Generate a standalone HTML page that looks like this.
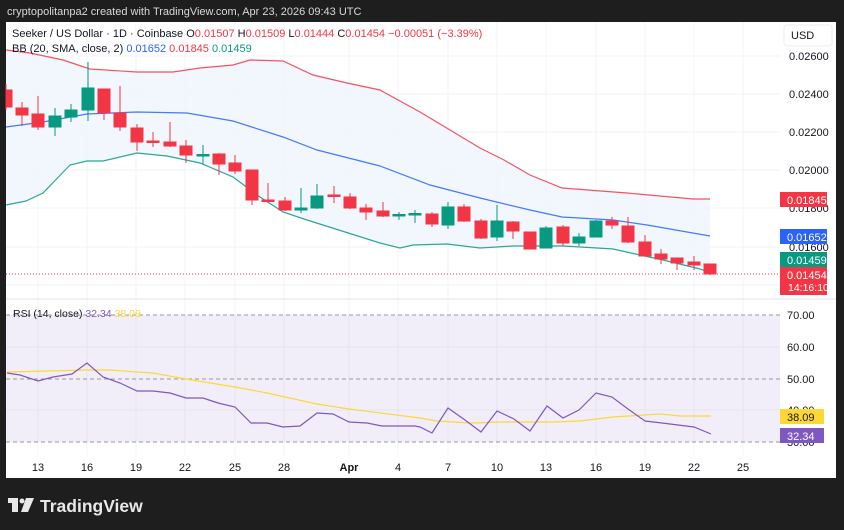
<!DOCTYPE html>
<html><head><meta charset="utf-8"><style>
html,body{margin:0;padding:0;background:#1e1e1e;}
svg{display:block;font-family:"Liberation Sans",sans-serif;}
</style></head><body>
<svg width="844" height="530" viewBox="0 0 844 530" xmlns="http://www.w3.org/2000/svg">
<rect width="844" height="530" fill="#1e1e1e"/>
<text x="7" y="15" font-size="11" fill="#d8d8d8">cryptopolitanpa2 created with TradingView.com, Apr 23, 2026 09:43 UTC</text>
<rect x="6" y="22" width="830" height="456" fill="#fff"/>
<!-- grid -->
<g stroke="#f2f3f5" stroke-width="1">
<line x1="38" y1="22" x2="38" y2="455"/><line x1="87" y1="22" x2="87" y2="455"/><line x1="136" y1="22" x2="136" y2="455"/><line x1="185" y1="22" x2="185" y2="455"/><line x1="235" y1="22" x2="235" y2="455"/><line x1="284" y1="22" x2="284" y2="455"/><line x1="349" y1="22" x2="349" y2="455"/><line x1="398" y1="22" x2="398" y2="455"/><line x1="448" y1="22" x2="448" y2="455"/><line x1="497" y1="22" x2="497" y2="455"/><line x1="546" y1="22" x2="546" y2="455"/><line x1="596" y1="22" x2="596" y2="455"/><line x1="645" y1="22" x2="645" y2="455"/><line x1="694" y1="22" x2="694" y2="455"/><line x1="743" y1="22" x2="743" y2="455"/>
<line x1="6" y1="56" x2="780" y2="56"/><line x1="6" y1="94" x2="780" y2="94"/><line x1="6" y1="132" x2="780" y2="132"/><line x1="6" y1="170" x2="780" y2="170"/><line x1="6" y1="208" x2="780" y2="208"/><line x1="6" y1="247" x2="780" y2="247"/><line x1="6" y1="285" x2="780" y2="285"/>
<line x1="6" y1="347" x2="780" y2="347"/><line x1="6" y1="410" x2="780" y2="410"/>
</g>
<!-- BB fill -->
<polygon fill="#eef5fd" fill-opacity="0.8" points="6,50 30,53 63,60 90,69 137,72 173,72 200,68 233,65 250,60 283,61 313,75 347,83 380,90 420,112 450,130 480,148 504,160 530,175 562,188 627,193 693,199 710,199 710,273 700,269 663,260 640,255 613,249 597,248 563,246 513,246 480,248 447,244 413,245 400,248 380,243 307,220 283,212 260,197 233,177 200,163 167,156 137,153 103,161 87,161 70,165 43,193 26,201 6,205"/>
<polyline fill="none" stroke="#f23645" stroke-opacity="0.85" stroke-width="1.2" points="6,50 30,53 63,60 90,69 137,72 173,72 200,68 233,65 250,60 283,61 313,75 347,83 380,90 420,112 450,130 480,148 504,160 530,175 562,188 627,193 693,199 710,199"/>
<polyline fill="none" stroke="#2962ff" stroke-opacity="0.85" stroke-width="1.2" points="6,127 43,122 87,114 137,112 187,113 233,121 283,137 317,150 380,166 430,185 480,198 530,210 562,217 613,220 647,225 710,236"/>
<polyline fill="none" stroke="#089981" stroke-opacity="0.85" stroke-width="1.2" points="6,205 26,201 43,193 70,165 87,161 103,161 137,153 167,156 200,163 233,177 260,197 283,212 307,220 380,243 400,248 413,245 447,244 480,248 513,246 563,246 597,248 613,249 640,255 663,260 700,269 710,273"/>
<line x1="6" y1="274" x2="780" y2="274" stroke="#f23645" stroke-width="1" stroke-dasharray="1,2"/>
<!-- candles -->
<g stroke-width="1">
<g fill="#f23645" stroke="#f23645">
<line x1="6" y1="84" x2="6" y2="110"/><rect x="6" y="90" width="6" height="17"/>
<line x1="22" y1="102" x2="22" y2="126"/><rect x="16" y="108" width="12" height="7"/>
<line x1="38" y1="96" x2="38" y2="130"/><rect x="32" y="114" width="12" height="13"/>
<line x1="104" y1="89" x2="104" y2="120"/><rect x="98" y="89" width="12" height="24"/>
<line x1="120" y1="86" x2="120" y2="131"/><rect x="114" y="113" width="12" height="14"/>
<line x1="137" y1="124" x2="137" y2="151"/><rect x="131" y="128" width="12" height="14"/>
<line x1="153" y1="132" x2="153" y2="147"/><rect x="147" y="141" width="12" height="1.5"/>
<line x1="170" y1="122" x2="170" y2="147"/><rect x="164" y="142" width="12" height="4"/>
<line x1="186" y1="140" x2="186" y2="163"/><rect x="180" y="146" width="12" height="9"/>
<line x1="219" y1="153" x2="219" y2="175"/><rect x="213" y="154" width="12" height="10"/>
<line x1="235" y1="155" x2="235" y2="174"/><rect x="229" y="163" width="12" height="8"/>
<line x1="252" y1="170" x2="252" y2="205"/><rect x="246" y="170" width="12" height="30"/>
<line x1="268" y1="183" x2="268" y2="203"/><rect x="262" y="200" width="12" height="1.5"/>
<line x1="285" y1="197" x2="285" y2="211"/><rect x="279" y="201" width="12" height="9"/>
<line x1="334" y1="186" x2="334" y2="203"/><rect x="328" y="195" width="12" height="1.5"/>
<line x1="350" y1="193" x2="350" y2="209"/><rect x="344" y="197" width="12" height="11"/>
<line x1="366" y1="204" x2="366" y2="220"/><rect x="360" y="208" width="12" height="4"/>
<line x1="383" y1="202" x2="383" y2="217"/><rect x="377" y="211" width="12" height="5"/>
<line x1="432" y1="212" x2="432" y2="227"/><rect x="426" y="214" width="12" height="10"/>
<line x1="464" y1="204" x2="464" y2="222"/><rect x="458" y="207" width="12" height="14"/>
<line x1="481" y1="219" x2="481" y2="239"/><rect x="475" y="221" width="12" height="17"/>
<line x1="513" y1="221" x2="513" y2="239"/><rect x="507" y="222" width="12" height="9"/>
<line x1="530" y1="232" x2="530" y2="249"/><rect x="524" y="232" width="12" height="17"/>
<line x1="563" y1="225" x2="563" y2="246"/><rect x="557" y="227" width="12" height="16"/>
<line x1="612" y1="217" x2="612" y2="229"/><rect x="606" y="221" width="12" height="4"/>
<line x1="628" y1="217" x2="628" y2="243"/><rect x="622" y="226" width="12" height="16"/>
<line x1="645" y1="235" x2="645" y2="256"/><rect x="639" y="242" width="12" height="14"/>
<line x1="661" y1="249" x2="661" y2="264"/><rect x="655" y="254" width="12" height="5"/>
<line x1="677" y1="258" x2="677" y2="270"/><rect x="671" y="258" width="12" height="5"/>
<line x1="694" y1="256" x2="694" y2="270"/><rect x="688" y="262" width="12" height="3"/>
<line x1="710" y1="264" x2="710" y2="275"/><rect x="704" y="264" width="12" height="10"/>
</g>
<g fill="#089981" stroke="#089981">
<line x1="55" y1="108" x2="55" y2="136"/><rect x="49" y="116" width="12" height="11"/>
<line x1="71" y1="104" x2="71" y2="122"/><rect x="65" y="110" width="12" height="7"/>
<line x1="88" y1="62" x2="88" y2="121"/><rect x="82" y="88" width="12" height="22"/>
<line x1="203" y1="145" x2="203" y2="164"/><rect x="197" y="154.5" width="12" height="1.5"/>
<line x1="301" y1="188" x2="301" y2="213"/><rect x="295" y="208" width="12" height="2"/>
<line x1="317" y1="184" x2="317" y2="209"/><rect x="311" y="196" width="12" height="12"/>
<line x1="399" y1="212" x2="399" y2="220"/><rect x="393" y="214.5" width="12" height="1.5"/>
<line x1="415" y1="210" x2="415" y2="223"/><rect x="409" y="213.5" width="12" height="1.5"/>
<line x1="448" y1="202" x2="448" y2="229"/><rect x="442" y="207" width="12" height="18"/>
<line x1="497" y1="205" x2="497" y2="241"/><rect x="491" y="221" width="12" height="16"/>
<line x1="546" y1="226" x2="546" y2="248"/><rect x="540" y="228" width="12" height="20"/>
<line x1="579" y1="233" x2="579" y2="246"/><rect x="573" y="237" width="12" height="6"/>
<line x1="596" y1="220" x2="596" y2="237"/><rect x="590" y="221" width="12" height="16"/>
</g>
</g>
<text x="12" y="37" font-size="11" fill="#131722">Seeker / US Dollar · 1D · Coinbase <tspan>O</tspan><tspan fill="#f23645">0.01507</tspan> H<tspan fill="#f23645">0.01509</tspan> L<tspan fill="#f23645">0.01444</tspan> C<tspan fill="#f23645">0.01454</tspan> <tspan fill="#f23645">−0.00051 (−3.39%)</tspan></text>
<text x="12" y="52" font-size="11" fill="#131722">BB (20, SMA, close, 2) <tspan fill="#2962ff">0.01652</tspan> <tspan fill="#f23645">0.01845</tspan> <tspan fill="#089981">0.01459</tspan></text>
<!-- price axis -->
<rect x="784" y="25" width="48" height="21" rx="3" fill="#fff" stroke="#eee"/>
<text x="791" y="39" font-size="11" fill="#131722">USD</text>
<g font-size="11" fill="#131722">
<text x="789" y="60">0.02600</text><text x="789" y="98">0.02400</text><text x="789" y="136">0.02200</text><text x="789" y="174">0.02000</text><text x="789" y="212">0.01800</text><text x="789" y="251">0.01600</text>
</g>
<rect x="780" y="192" width="47" height="15" fill="#f23645"/><text x="787" y="204" font-size="11" fill="#fff">0.01845</text>
<rect x="780" y="229" width="47" height="15" fill="#2962ff"/><text x="787" y="241" font-size="11" fill="#fff">0.01652</text>
<rect x="780" y="252" width="47" height="15" fill="#089981"/><text x="787" y="264" font-size="11" fill="#fff">0.01459</text>
<rect x="780" y="267" width="47" height="28" fill="#f23645"/><text x="787" y="279" font-size="11" fill="#fff">0.01454</text><text x="788" y="291" font-size="10.5" fill="#fff">14:16:10</text>
<!-- separator -->
<line x1="6" y1="299" x2="836" y2="299" stroke="#e0e3eb"/>
<!-- RSI -->
<rect x="6" y="315" width="774" height="127" fill="#7e57c2" fill-opacity="0.1"/>
<g stroke="#9598a1" stroke-dasharray="4,3" stroke-width="1">
<line x1="6" y1="315" x2="780" y2="315"/><line x1="6" y1="379" x2="780" y2="379"/><line x1="6" y1="442" x2="780" y2="442"/>
</g>
<polyline fill="none" stroke="#fdd835" stroke-width="1.2" points="7,372 87,370 110,370 137,372 153,373 186,379 235,387 267,393 317,404 349,409 420,418 437,421 470,423 503,422 553,422 580,421 613,417 660,414 680,416 711,416"/>
<polyline fill="none" stroke="#7e57c2" stroke-width="1.2" points="7,373 20,375 38,381 53,377 72,374 87,363 103,377 120,383 137,391 153,391 170,393 186,398 203,398 218,403 235,407 251,423 267,423 283,427 300,426 317,413 333,414 349,422 367,423 382,426 398,426 415,426 420,427 432,433 448,408 465,420 481,432 497,411 514,419 530,431 547,406 563,418 579,410 596,393 612,397 628,409 645,421 662,423 678,425 694,427 711,434"/>
<text x="13" y="317" font-size="10.5" fill="#131722">RSI (14, close) <tspan fill="#7e57c2">32.34</tspan> <tspan fill="#fdd835">38.09</tspan></text>
<g font-size="11" fill="#131722">
<text x="787" y="319">70.00</text><text x="787" y="351">60.00</text><text x="787" y="383">50.00</text><text x="787" y="414">40.00</text><text x="787" y="446">30.00</text>
</g>
<rect x="780" y="409" width="44" height="15" fill="#fdd835"/><text x="787" y="421" font-size="11" fill="#131722">38.09</text>
<rect x="780" y="428" width="44" height="15" fill="#7e57c2"/><text x="787" y="440" font-size="11" fill="#fff">32.34</text>
<!-- dates -->
<g font-size="11" fill="#131722" text-anchor="middle">
<text x="38" y="471">13</text><text x="87" y="471">16</text><text x="136" y="471">19</text><text x="185" y="471">22</text><text x="235" y="471">25</text><text x="284" y="471">28</text><text x="349" y="471" font-weight="bold">Apr</text><text x="398" y="471">4</text><text x="448" y="471">7</text><text x="497" y="471">10</text><text x="546" y="471">13</text><text x="596" y="471">16</text><text x="645" y="471">19</text><text x="694" y="471">22</text><text x="743" y="471">25</text>
</g>
<!-- logo -->
<g fill="#e8e8e8">
<rect x="8" y="498" width="10" height="5"/><rect x="12" y="498" width="6" height="14"/>
<circle cx="22" cy="501" r="2.5"/><polygon points="26,498 34,498 28,512 21,512"/>
</g>
<text x="40" y="512" font-size="17.5" font-weight="bold" fill="#e8e8e8">TradingView</text>
</svg>
</body></html>
